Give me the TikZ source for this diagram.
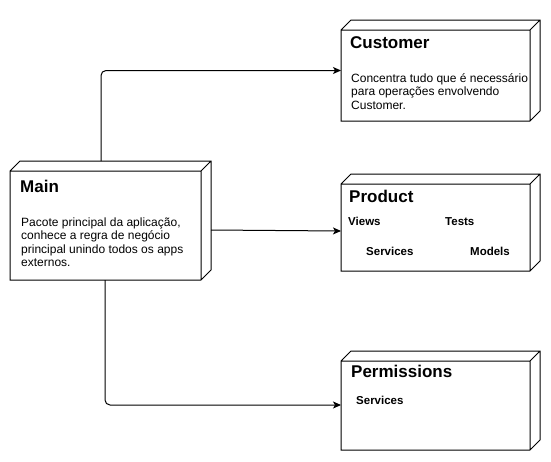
\documentclass[tikz,border=0pt]{standalone}
\usepackage{fontspec}
\setmainfont{Liberation Sans}
\usetikzlibrary{calc,arrows.meta}
\newcommand\cubefaces[1]{%
  \draw[cubeline] ($(#1.north west)+(0,10)$) -- ($(#1.north west)+(10,0)$) -- (#1.north east)
    -- ($(#1.south east)+(0,-10)$) -- ($(#1.south east)+(-10,0)$) -- (#1.south west) -- cycle
    ($(#1.north west)+(0,10)$) -- ($(#1.north east)+(-10,10)$) -- (#1.north east)
    ($(#1.north east)+(-10,10)$) -- ($(#1.south east)+(-10,0)$);
}
\tikzset{
  cubebox/.style={inner sep=0pt, outer sep=0pt, anchor=north west, draw=none},
  cubeline/.style={line width=1pt, line join=miter},
  conn/.style={line width=1pt, rounded corners=5pt, -{Stealth[length=8pt,width=7pt,inset=2pt]}},
  title/.style={anchor=base west, inner sep=0pt, font=\fontsize{17}{20}\selectfont\bfseries},
  body/.style={anchor=base west, inner sep=0pt, align=left, font=\fontsize{12}{13.5}\selectfont},
  item/.style={anchor=base west, inner sep=0pt, font=\fontsize{11.5}{13}\selectfont\bfseries},
}
\begin{document}
\begin{tikzpicture}[x=1pt,y=-1pt]
  \useasboundingbox[fill=white] (0,0) rectangle (551,461);
  % boxes
  \node[cubebox, minimum width=201pt, minimum height=119pt] (main) at (10,161) {};
  \node[cubebox, minimum width=199pt, minimum height=101pt] (customer) at (341,20) {};
  \node[cubebox, minimum width=199pt, minimum height=97pt] (product) at (341,174) {};
  \node[cubebox, minimum width=199pt, minimum height=99pt] (permissions) at (341,351) {};
  \cubefaces{main}
  \cubefaces{customer}
  \cubefaces{product}
  \cubefaces{permissions}
  % texts (multi-line nodes: base = last line's baseline)
  \node[title] (maint) at (20,192) {Main};
  \node[body] (mainb) at (21,266.5) {Pacote principal da aplicação,\\conhece a regra de negócio\\principal unindo todos os apps\\externos.};
  \node[title] (custt) at (350,48) {Customer};
  \node[body] (custb) at (351,109) {Concentra tudo que é necessário\\para operações envolvendo\\Customer.};
  \node[title] (prodt) at (349,202) {Product};
  \node[item] (views) at (348,225) {Views};
  \node[item] (tests) at (445,225) {Tests};
  \node[item] (pserv) at (366,255) {Services};
  \node[item] (models) at (470,255) {Models};
  \node[title] (permt) at (351,377) {Permissions};
  \node[item] (permserv) at (356,404) {Services};
  % connectors
  \draw[conn] ($(main.north west)+(91,0)$) |- (customer.west);
  \draw[conn] ($(main.east)+(0,9.5)$) -- ($(product.west)+(0,8.5)$);
  \draw[conn] ($(main.south west)+(95,0)$) |- ($(permissions.west)+(0,4.5)$);
\end{tikzpicture}
\end{document}
